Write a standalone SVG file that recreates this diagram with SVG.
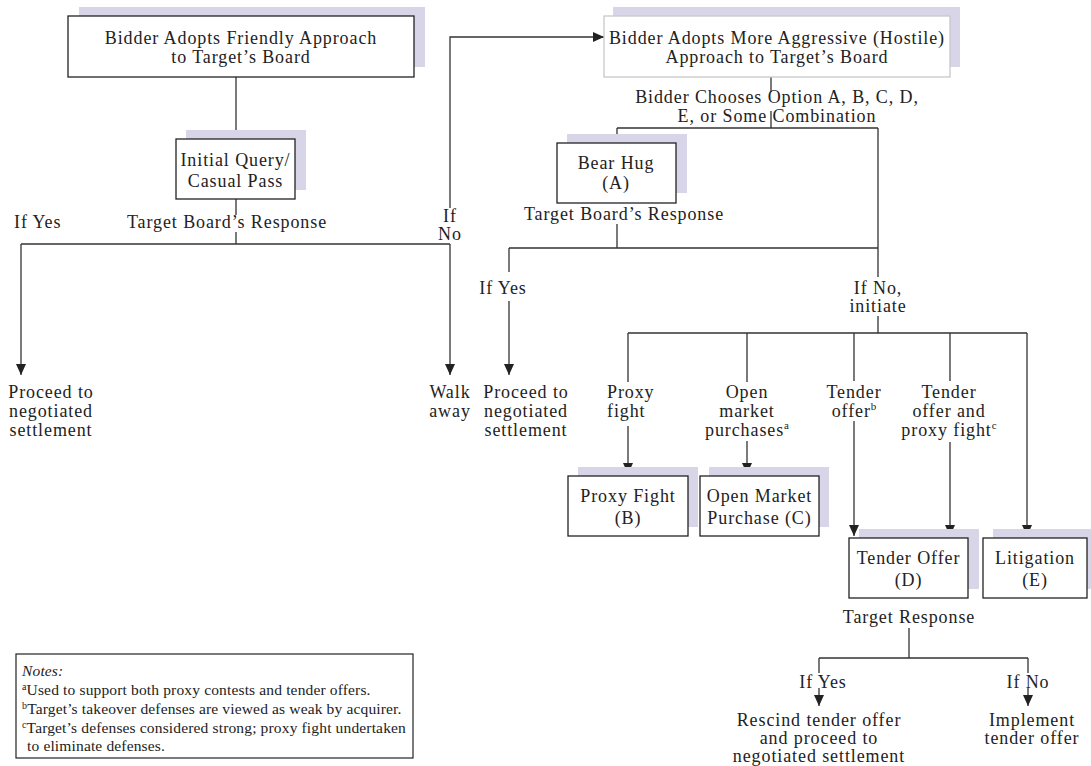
<svg xmlns="http://www.w3.org/2000/svg" width="1091" height="766" viewBox="0 0 1091 766">
<style>
.bg{fill:#fff}
.sh{fill:#d9d5e9}
.box{fill:#fff;stroke:#222;stroke-width:1.3}
.boxl{fill:#fff;stroke:#c8c8c8;stroke-width:1.3}
.ln{stroke:#333;stroke-width:1.3;fill:none}
.t{font-family:"Liberation Serif","Times New Roman",serif;font-size:18px;letter-spacing:0.9px;fill:#222;text-anchor:middle}
.s{text-anchor:start}
.n{font-family:"Liberation Serif","Times New Roman",serif;font-size:15.5px;fill:#222;letter-spacing:0.15px}
.sup{font-size:11px;letter-spacing:0}
.nsup{font-size:10px}
</style>
<defs>
<marker id="ah" viewBox="0 0 11 10" markerWidth="11" markerHeight="10" refX="11" refY="5" orient="auto" markerUnits="userSpaceOnUse">
<path d="M0,0 L11,5 L0,10 z" fill="#222"/>
</marker>
</defs>
<rect class="bg" x="0" y="0" width="1091" height="766"/>

<g id="connectors">
<path class="ln" d="M236,77 V139"/>
<path class="ln" d="M236,199 V215 M236,232 V244"/>
<path class="ln" d="M21,244 H450"/>
<path class="ln" d="M21,244 V375" marker-end="url(#ah)"/>
<path class="ln" d="M450,244 V375" marker-end="url(#ah)"/>
<path class="ln" d="M450,208 V37 H604" marker-end="url(#ah)"/>
<path class="ln" d="M771,77 V92 M771,111 V128"/>
<path class="ln" d="M617,128 H878 M617,128 V143 M878,128 V277"/>
<path class="ln" d="M617,224 V248 M509,248 H878 M509,248 V272"/>
<path class="ln" d="M509,301 V375" marker-end="url(#ah)"/>
<path class="ln" d="M878,316 V333 M628,333 H1027"/>
<path class="ln" d="M628,333 V382 M747,333 V382 M854,333 V381 M950,333 V381"/>
<path class="ln" d="M628,426 V474" marker-end="url(#ah)"/>
<path class="ln" d="M747,441 V474" marker-end="url(#ah)"/>
<path class="ln" d="M854,421 V536" marker-end="url(#ah)"/>
<path class="ln" d="M950,442 V536" marker-end="url(#ah)"/>
<path class="ln" d="M1027,333 V536" marker-end="url(#ah)"/>
<path class="ln" d="M909,628 V658 M819,658 H1028 M819,658 V673 M1028,658 V673"/>
<path class="ln" d="M819,688 V706" marker-end="url(#ah)"/>
<path class="ln" d="M1028,688 V706" marker-end="url(#ah)"/>
</g>

<g id="n-friendly">
<rect class="sh" x="79" y="7" width="346" height="60"/>
<rect class="box" x="68" y="16" width="346" height="61"/>
<text class="t" x="241" y="44">Bidder Adopts Friendly Approach</text>
<text class="t" x="241" y="63">to Target’s Board</text>
</g>

<g id="n-initial">
<rect class="sh" x="186" y="130" width="120" height="60"/>
<rect class="box" x="176" y="139" width="119" height="60"/>
<text class="t" x="235.5" y="166">Initial Query/</text>
<text class="t" x="235.5" y="187">Casual Pass</text>
</g>

<g id="n-hostile">
<rect class="sh" x="613" y="7" width="347" height="60"/>
<rect class="boxl" x="604" y="16" width="346" height="61"/>
<text class="t" x="777" y="44">Bidder Adopts More Aggressive (Hostile)</text>
<text class="t" x="777" y="63">Approach to Target’s Board</text>
</g>

<g id="n-bearhug">
<rect class="sh" x="567" y="134" width="120" height="59"/>
<rect class="box" x="557" y="143" width="119" height="60"/>
<text class="t" x="616" y="169">Bear Hug</text>
<text class="t" x="616" y="189">(A)</text>
</g>

<g id="n-proxy">
<rect class="sh" x="578" y="467" width="120" height="60"/>
<rect class="box" x="568" y="476" width="120" height="60"/>
<text class="t" x="628" y="502">Proxy Fight</text>
<text class="t" x="628" y="524">(B)</text>
</g>

<g id="n-open">
<rect class="sh" x="709" y="467" width="120" height="60"/>
<rect class="box" x="700" y="476" width="119" height="60"/>
<text class="t" x="759.5" y="502">Open Market</text>
<text class="t" x="759.5" y="524">Purchase (C)</text>
</g>

<g id="n-tender">
<rect class="sh" x="859" y="529" width="120" height="60"/>
<rect class="box" x="849" y="538" width="119" height="60"/>
<text class="t" x="908.5" y="564">Tender Offer</text>
<text class="t" x="908.5" y="586">(D)</text>
</g>

<g id="n-litigation">
<rect class="sh" x="993" y="529" width="100" height="60"/>
<rect class="box" x="983" y="538" width="104" height="60"/>
<text class="t" x="1035" y="564">Litigation</text>
<text class="t" x="1035" y="586">(E)</text>
</g>

<g id="labels">
<text class="t s" x="14" y="228">If Yes</text>
<text class="t" x="227" y="228">Target Board’s Response</text>
<text class="t" x="450" y="222">If</text>
<text class="t" x="450" y="240">No</text>
<text class="t" x="51" y="398">Proceed to</text>
<text class="t" x="51" y="417">negotiated</text>
<text class="t" x="51" y="436">settlement</text>
<text class="t" x="450" y="398">Walk</text>
<text class="t" x="450" y="417">away</text>
<text class="t" x="526" y="398">Proceed to</text>
<text class="t" x="526" y="417">negotiated</text>
<text class="t" x="526" y="436">settlement</text>
<text class="t" x="777" y="103">Bidder Chooses Option A, B, C, D,</text>
<text class="t" x="777" y="122">E, or Some Combination</text>
<text class="t" x="624" y="220">Target Board’s Response</text>
<text class="t" x="503" y="294">If Yes</text>
<text class="t" x="878" y="294">If No,</text>
<text class="t" x="878" y="312">initiate</text>
<text class="t s" x="607" y="398">Proxy</text>
<text class="t s" x="607" y="417">fight</text>
<text class="t" x="747" y="398">Open</text>
<text class="t" x="747" y="417">market</text>
<text class="t" x="747" y="436">purchases<tspan class="sup" dy="-7">a</tspan></text>
<text class="t" x="854" y="398">Tender</text>
<text class="t" x="854" y="417">offer<tspan class="sup" dy="-7">b</tspan></text>
<text class="t" x="949" y="398">Tender</text>
<text class="t" x="949" y="417">offer and</text>
<text class="t" x="949" y="436">proxy fight<tspan class="sup" dy="-7">c</tspan></text>
<text class="t" x="909" y="623">Target Response</text>
<text class="t" x="823" y="688">If Yes</text>
<text class="t" x="1028" y="688">If No</text>
<text class="t" x="819" y="726">Rescind tender offer</text>
<text class="t" x="819" y="744">and proceed to</text>
<text class="t" x="819" y="762">negotiated settlement</text>
<text class="t" x="1032" y="726">Implement</text>
<text class="t" x="1032" y="744">tender offer</text>
</g>

<g id="notes">
<rect x="16" y="654" width="397" height="104" fill="none" stroke="#222" stroke-width="1.2"/>
<text class="n" x="22" y="676" font-style="italic">Notes:</text>
<text class="n" x="22" y="695"><tspan class="nsup" dy="-5">a</tspan><tspan dy="5">Used to support both proxy contests and tender offers.</tspan></text>
<text class="n" x="22" y="714"><tspan class="nsup" dy="-5">b</tspan><tspan dy="5">Target’s takeover defenses are viewed as weak by acquirer.</tspan></text>
<text class="n" x="22" y="733"><tspan class="nsup" dy="-5">c</tspan><tspan dy="5">Target’s defenses considered strong; proxy fight undertaken</tspan></text>
<text class="n" x="27" y="751">to eliminate defenses.</text>
</g>
</svg>
